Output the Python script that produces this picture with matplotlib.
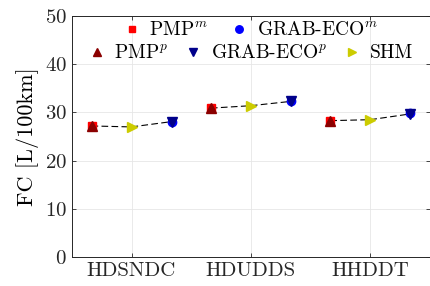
import numpy as np
import matplotlib
matplotlib.use("Agg")
import matplotlib.pyplot as plt

plt.rcParams['font.family'] = 'serif'
plt.rcParams['font.serif'] = ['cmr10']
plt.rcParams['mathtext.fontset'] = 'cm'
plt.rcParams['axes.formatter.use_mathtext'] = True

cycles = ['HDSNDC', 'HDUDDS', 'HHDDT']
pmp_m = [27.2, 30.9, 28.3]
pmp_p = [27.2, 30.9, 28.3]
grab_m = [28.1, 32.3, 29.8]
grab_p = [28.1, 32.3, 29.7]
shm = [27.0, 31.4, 28.5]

x = np.arange(1, len(cycles) + 1)
off = 0.335

fig = plt.figure(figsize=(4.3, 2.86), dpi=100)
ax = fig.add_axes([0.167, 0.101, 0.833, 0.843])

for i in range(len(cycles)):
    ax.plot([x[i] - off, x[i], x[i] + off], [pmp_p[i], shm[i], grab_p[i]],
            '--', color='k', lw=0.8, dashes=(6, 3), zorder=2)

h1, = ax.plot(x - off, pmp_m, 's', color='#ff0000', ms=5.5, ls='none', zorder=3)
h2, = ax.plot(x + off, grab_m, 'o', color='#0000ff', ms=6, ls='none', zorder=3)
h3, = ax.plot(x - off, pmp_p, '^', color='#8b0000', ms=7.5, ls='none', zorder=4)
h4, = ax.plot(x + off, grab_p, 'v', color='#00008b', ms=7.5, ls='none', zorder=4)
h5, = ax.plot(x, shm, '>', color='#cccc00', ms=7.5, ls='none', zorder=4)

ax.set_xlim(0.5, 3.5)
ax.set_ylim(0, 50)
ax.set_xticks(x)
ax.set_xticklabels(cycles)
ax.set_yticks(np.arange(0, 51, 10))
ax.set_ylabel('FC [L/100km]', fontsize=16)
ax.tick_params(labelsize=15, direction='in', top=True, right=True,
               colors='#262626', length=3, width=0.6)
for s in ax.spines.values():
    s.set_color('#262626')
    s.set_linewidth(0.7)
ax.grid(True, color='#e6e6e6', lw=0.6)
ax.set_axisbelow(True)

leg1 = ax.legend([h1, h2], ['PMP$^m$', 'GRAB-ECO$^m$'], ncol=2, frameon=False,
                 loc='upper center', bbox_to_anchor=(0.5, 1.05), fontsize=14,
                 handletextpad=0.5, columnspacing=1.2, handlelength=0.8,
                 markerscale=0.9)
ax.add_artist(leg1)
ax.legend([h3, h4, h5], ['PMP$^p$', 'GRAB-ECO$^p$', 'SHM'], ncol=3, frameon=False,
          loc='upper center', bbox_to_anchor=(0.5, 0.955), fontsize=14,
          handletextpad=0.5, columnspacing=0.9, handlelength=0.8,
          markerscale=0.8)

fig.savefig('out.png', dpi=100)
